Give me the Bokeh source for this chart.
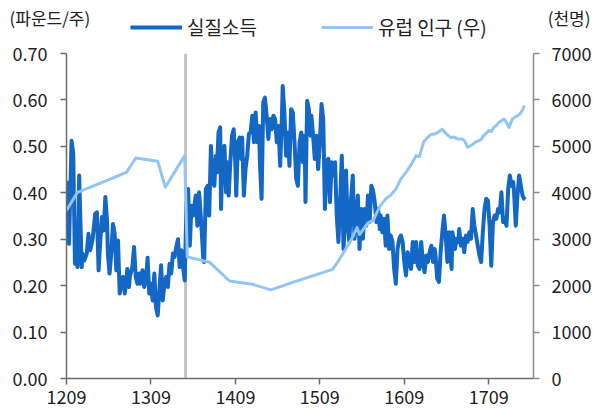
from bokeh.plotting import figure
from bokeh.models import (Range1d, LinearAxis, FixedTicker, NumeralTickFormatter,
                          Span, Label, Legend, LegendItem)
from bokeh.layouts import column
from bokeh.embed import file_html
from bokeh.resources import INLINE

FONT = "Noto Sans CJK KR"

wage_years = [1209, 1212, 1215, 1217, 1219, 1221, 1222, 1224, 1225, 1227, 1228, 1230, 1233, 1235, 1237,
              1240, 1241, 1243, 1245, 1247, 1249, 1251, 1253, 1255, 1257, 1258, 1260, 1262, 1264, 1266,
              1268, 1270, 1272, 1274, 1276, 1278, 1280, 1281, 1283, 1284, 1287, 1289, 1291, 1293, 1295,
              1296, 1299, 1301, 1303, 1305, 1307, 1309, 1311, 1313, 1315, 1317, 1319, 1321, 1323, 1325,
              1327, 1329, 1331, 1333, 1335, 1337, 1339, 1341, 1343, 1345, 1347, 1349, 1351, 1353, 1355,
              1357, 1359, 1362, 1364, 1366, 1368, 1371, 1372, 1374, 1376, 1378, 1380, 1382, 1384, 1386,
              1387, 1389, 1391, 1392, 1394, 1396, 1398, 1400, 1401, 1403, 1405, 1407, 1409, 1410, 1412,
              1414, 1416, 1417, 1419, 1421, 1423, 1425, 1427, 1429, 1431, 1433, 1435, 1437, 1438, 1440,
              1442, 1444, 1446, 1448, 1450, 1452, 1454, 1456, 1458, 1460, 1462, 1464, 1465, 1467, 1469,
              1471, 1473, 1475, 1477, 1479, 1481, 1483, 1485, 1487, 1489, 1491, 1492, 1494, 1496, 1498,
              1499, 1501, 1503, 1505, 1507, 1509, 1511, 1513, 1515, 1517, 1519, 1521, 1523, 1525, 1527,
              1529, 1531, 1533, 1535, 1537, 1538, 1540, 1542, 1544, 1546, 1548, 1550, 1552, 1554, 1556,
              1558, 1560, 1562, 1564, 1566, 1568, 1570, 1572, 1574, 1576, 1578, 1580, 1581, 1583, 1585,
              1587, 1589, 1591, 1593, 1595, 1597, 1599, 1601, 1603, 1605, 1607, 1609, 1611, 1613, 1615,
              1617, 1619, 1621, 1623, 1625, 1627, 1629, 1631, 1633, 1635, 1637, 1639, 1641, 1643, 1645,
              1646, 1648, 1650, 1652, 1654, 1656, 1658, 1660, 1662, 1664, 1665, 1666, 1669, 1671, 1673,
              1674, 1676, 1678, 1680, 1682, 1684, 1686, 1688, 1690, 1692, 1694, 1696, 1698, 1700, 1702,
              1704, 1706, 1708, 1710, 1712, 1714, 1716, 1718, 1720, 1722, 1724, 1726, 1728, 1730, 1732,
              1734, 1736, 1738, 1739, 1741, 1743, 1745, 1747, 1749, 1751, 1752]
wage_values = [0.426, 0.290, 0.512, 0.484, 0.247, 0.269, 0.240, 0.437, 0.369, 0.240, 0.269, 0.254, 0.269, 0.312, 0.276,
               0.301, 0.319, 0.355, 0.358, 0.233, 0.297, 0.348, 0.319, 0.391, 0.340, 0.269, 0.226, 0.269, 0.333, 0.312,
               0.233, 0.297, 0.183, 0.211, 0.219, 0.183, 0.211, 0.236, 0.197, 0.219, 0.240, 0.283, 0.219, 0.204, 0.226,
               0.204, 0.233, 0.197, 0.211, 0.260, 0.183, 0.204, 0.168, 0.226, 0.154, 0.136, 0.190, 0.244, 0.168, 0.204,
               0.219, 0.197, 0.247, 0.226, 0.269, 0.262, 0.283, 0.300, 0.240, 0.276, 0.240, 0.211, 0.370, 0.408, 0.286,
               0.372, 0.351, 0.394, 0.329, 0.401, 0.351, 0.258, 0.251, 0.408, 0.415, 0.351, 0.501, 0.437, 0.415, 0.480,
               0.444, 0.530, 0.541, 0.365, 0.494, 0.501, 0.401, 0.466, 0.394, 0.466, 0.523, 0.537, 0.458, 0.394, 0.509,
               0.519, 0.473, 0.519, 0.394, 0.451, 0.480, 0.527, 0.530, 0.566, 0.509, 0.573, 0.509, 0.544, 0.466, 0.387,
               0.595, 0.605, 0.566, 0.516, 0.559, 0.537, 0.566, 0.559, 0.509, 0.544, 0.458, 0.559, 0.630, 0.573, 0.480,
               0.530, 0.458, 0.580, 0.573, 0.509, 0.430, 0.415, 0.509, 0.530, 0.466, 0.523, 0.380, 0.598, 0.580, 0.523,
               0.566, 0.523, 0.473, 0.523, 0.451, 0.509, 0.591, 0.559, 0.365, 0.466, 0.473, 0.380, 0.466, 0.437, 0.466,
               0.351, 0.294, 0.380, 0.480, 0.279, 0.315, 0.448, 0.329, 0.294, 0.387, 0.437, 0.301, 0.337, 0.394, 0.279,
               0.365, 0.301, 0.365, 0.329, 0.394, 0.337, 0.415, 0.405, 0.380, 0.337, 0.365, 0.322, 0.351, 0.315, 0.344,
               0.286, 0.351, 0.279, 0.308, 0.294, 0.236, 0.204, 0.279, 0.301, 0.308, 0.294, 0.251, 0.222, 0.272, 0.251,
               0.236, 0.294, 0.251, 0.294, 0.243, 0.236, 0.294, 0.251, 0.229, 0.265, 0.251, 0.272, 0.286, 0.251, 0.279,
               0.265, 0.215, 0.208, 0.272, 0.315, 0.351, 0.308, 0.251, 0.315, 0.258, 0.236, 0.315, 0.279, 0.301, 0.294,
               0.322, 0.286, 0.301, 0.272, 0.308, 0.294, 0.315, 0.301, 0.365, 0.329, 0.308, 0.286, 0.265, 0.251, 0.315,
               0.365, 0.387, 0.383, 0.329, 0.243, 0.337, 0.351, 0.344, 0.365, 0.358, 0.401, 0.337, 0.344, 0.329, 0.408,
               0.437, 0.415, 0.423, 0.401, 0.329, 0.394, 0.437, 0.415, 0.394, 0.387, 0.385]

pop_years = [1209, 1222, 1252, 1280, 1291, 1317, 1326, 1349, 1352, 1372, 1378, 1402, 1429, 1451, 1475,
             1524, 1530, 1540, 1548, 1553, 1556, 1560, 1566, 1572, 1580, 1587, 1593, 1599, 1605, 1611,
             1617, 1623, 1627, 1632, 1635, 1640, 1646, 1650, 1654, 1657, 1660, 1664, 1668, 1672, 1677,
             1680, 1684, 1687, 1690, 1694, 1697, 1700, 1703, 1706, 1709, 1712, 1715, 1718, 1721, 1724,
             1727, 1730, 1733, 1737, 1740, 1743, 1746, 1749, 1751]
pop_values = [3620, 4010, 4230, 4440, 4750, 4680, 4120, 4800, 2620, 2530, 2510, 2100, 2030, 1910, 2060,
              2350, 2500, 2800, 3050, 3250, 3100, 3200, 3350, 3400, 3700, 3870, 3950, 4080, 4300, 4440,
              4600, 4800, 4780, 5100, 5160, 5250, 5270, 5320, 5370, 5300, 5250, 5190, 5200, 5160, 5160,
              5130, 4980, 5010, 5040, 5100, 5120, 5150, 5230, 5280, 5340, 5320, 5410, 5450, 5520, 5550,
              5590, 5520, 5410, 5590, 5630, 5660, 5700, 5780, 5880]

x_ticks = [1209, 1309, 1409, 1509, 1609, 1709]
x_start, x_end = 1209, 1762
black_death_year = 1350
left_max, right_max = 0.70, 7000

WAGE_COLOR = "#1268c4"
POP_COLOR = "#93c5f4"
TEXT_COLOR = "#222222"
W, H, HDR_H = 595, 410, 40

# ---------- header: unit captions + legend ----------
header = figure(width=W, height=HDR_H, output_backend="svg", toolbar_location=None,
                x_range=Range1d(0, W), y_range=Range1d(0, HDR_H),
                x_axis_location=None, y_axis_location=None,
                min_border_left=0, min_border_right=0, min_border_top=0, min_border_bottom=0)
header.frame_align = False
header.outline_line_color = None
header.xgrid.visible = False
header.ygrid.visible = False

nan = float("nan")
h_wage = header.line([nan], [nan], line_color=WAGE_COLOR, line_width=4)
h_pop = header.line([nan], [nan], line_color=POP_COLOR, line_width=3)
legend = Legend(items=[LegendItem(label="실질소득", renderers=[h_wage]),
                       LegendItem(label="유럽 인구 (우)", renderers=[h_pop])],
                orientation="horizontal", location=(130, 0),
                glyph_width=52, glyph_height=20, label_standoff=5, spacing=64,
                padding=0, margin=0, border_line_color=None, background_fill_alpha=0,
                label_text_font=FONT, label_text_font_size="19px", label_text_color=TEXT_COLOR)
header.add_layout(legend, "center")
header.add_layout(Label(x=9, y=23, x_units="screen", y_units="screen", text="(파운드/주)",
                        text_font=FONT, text_font_size="17px", text_baseline="middle",
                        text_color=TEXT_COLOR))
header.add_layout(Label(x=590, y=23, x_units="screen", y_units="screen", text="(천명)",
                        text_font=FONT, text_font_size="17px", text_baseline="middle",
                        text_align="right", text_color=TEXT_COLOR))

# ---------- main chart ----------
p = figure(width=W, height=H - HDR_H, output_backend="svg", toolbar_location=None,
           x_range=Range1d(x_start, x_end), y_range=Range1d(0, left_max),
           min_border_left=66, min_border_right=62, min_border_top=13, min_border_bottom=32)
p.frame_align = False
p.extra_y_ranges = {"pop": Range1d(0, right_max)}
p.outline_line_color = None
p.xgrid.visible = False
p.ygrid.visible = False


def style(ax, color):
    ax.axis_line_color = color
    ax.axis_line_width = 1.5
    ax.major_tick_line_color = color
    ax.major_tick_line_width = 1.5
    ax.major_tick_out = 6
    ax.major_tick_in = 0
    ax.minor_tick_line_color = None
    ax.major_label_text_font = FONT
    ax.major_label_text_font_size = "18px"
    ax.major_label_text_color = TEXT_COLOR


xa = p.xaxis[0]
xa.ticker = FixedTicker(ticks=x_ticks)
style(xa, "#6b6b6b")
xa.major_label_standoff = 5

ya = p.yaxis[0]
ya.ticker = FixedTicker(ticks=[i / 10 for i in range(8)])
ya.formatter = NumeralTickFormatter(format="0.00")
style(ya, "#6b6b6b")
ya.major_label_standoff = 13

ra = LinearAxis(y_range_name="pop", ticker=FixedTicker(ticks=list(range(0, 7001, 1000))),
                formatter=NumeralTickFormatter(format="0"))
style(ra, "#8c8c8c")
ra.major_label_standoff = 12
p.add_layout(ra, "right")

p.add_layout(Span(location=black_death_year, dimension="height", line_color="#c4c4c4",
                  line_width=3, level="underlay"))

p.line(wage_years, wage_values, line_color=WAGE_COLOR, line_width=4, line_join="round")
p.line(pop_years, pop_values, y_range_name="pop", line_color=POP_COLOR, line_width=3,
       line_join="round")

layout = column(header, p, spacing=0)
open("out.html", "w").write(file_html(layout, INLINE))
